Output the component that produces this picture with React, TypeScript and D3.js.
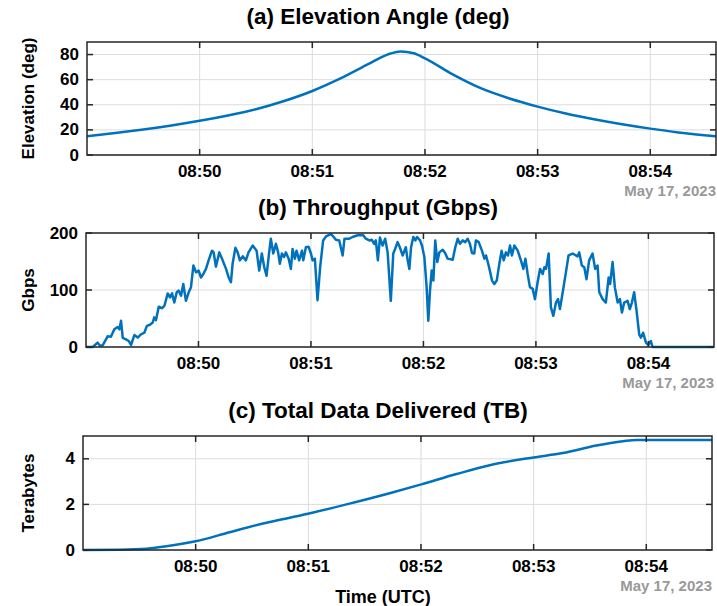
import { useEffect, useRef } from 'react'
import * as d3 from 'd3'

// seconds after 08:49:00 UTC, May 17 2023
const elevTime = [0, 15, 30, 45, 60, 75, 90, 105, 120, 135, 150, 160, 167, 174, 180, 195, 210, 225, 240, 255, 270, 285, 300, 315, 335]
const elevDeg = [15.0, 17.5, 20.3, 23.5, 27.2, 31.5, 36.5, 43.0, 51.0, 61.0, 72.5, 80.0, 82.5, 81.0, 77.0, 64.0, 53.0, 45.0, 38.5, 33.0, 28.5, 24.5, 21.0, 18.0, 15.0]

const tputTime = [
  0, 3.6, 6.2, 7.5, 8.9, 11.6, 13.3, 15.1, 16.9, 17.8, 18.7, 19.6, 21.3, 22.8, 24.0, 25.8, 27.6, 29.3, 31.1, 32.5,
  34.1, 35.6, 36.4, 37.3, 38.8, 40.5, 41.8, 43.6, 44.8, 45.9, 47.1, 48.4, 49.4, 50.7, 51.9, 53.3, 54.8, 56.0, 57.3, 58.7,
  60.1, 61.3, 62.6, 64.0, 65.4, 67.2, 68.1, 69.3, 71.1, 72.9, 74.7, 76.1, 77.3, 78.2, 79.7, 80.9, 82.1, 83.6, 85.3,
  86.7, 88.9, 91.0, 92.4, 93.8, 95.1, 96.3, 97.7, 98.6, 99.9, 101.3, 102.5, 103.4, 104.5, 105.7, 106.6, 108.1, 109.3,
  110.2, 111.4, 112.3, 113.7, 115.2, 115.9, 117.3, 118.7, 120.0, 120.9, 122.1, 123.5, 124.9, 126.5, 128.0, 130.6,
  131.9, 133.3, 135.1, 136.9, 137.9, 140.4, 142.2, 144.9, 147.9, 149.3, 151.1, 152.5, 153.7, 154.6, 155.7, 156.8,
  158.2, 159.6, 160.9, 162.6, 163.9, 164.9, 166.2, 167.4, 168.9, 170.6,
  171.6, 172.5, 173.4, 174.6, 175.7, 176.6, 178.2, 179.2, 180.5, 181.7, 182.6, 183.5, 184.4, 185.3, 186.3, 187.4,
  188.5, 190.3, 191.7, 192.9, 195.6, 197.0, 198.3, 199.5, 200.9, 202.3, 203.6, 204.8, 205.9, 207.1, 208.0, 209.5,
  211.2, 212.5, 213.4, 214.8, 216.6, 217.8, 219.1, 220.5, 221.7, 222.8, 224.0, 225.1, 226.2, 227.2, 228.5, 230.3,
  232.0, 233.3, 234.4, 235.6, 236.8, 238.3, 239.5, 240.9, 242.2, 243.6, 244.5, 245.4, 246.8, 248.0, 249.3, 250.7,
  251.8, 252.8, 254.3, 256.0,
  257.4, 259.6, 262.2, 263.1, 264.5, 265.8, 267.0, 268.4, 270.2, 271.6, 272.9, 273.8, 275.6, 277.3, 278.8, 279.6,
  280.9, 282.1, 283.6, 284.8, 285.9, 287.1, 288.9, 290.1, 291.2, 292.4, 293.7, 295.1, 296.0, 297.2, 298.7, 299.9,
  301.3, 302.2, 335
]
const tputGbps = [
  0, 0, 7.6, 2, 3, 19, 18, 31, 35, 31, 46, 16, 13.5, 10.6, 3.5, 21, 16.5, 22, 25, 37,
  39, 43, 52, 47, 70.6, 68, 72, 94, 87, 94, 78, 96, 99, 90, 110.6, 81, 96, 105, 143, 131,
  134, 122, 128, 137, 152, 169, 166, 141, 166, 152, 137, 122, 113.5, 146, 174, 166, 152, 159, 152,
  166, 178, 169, 134, 164, 140, 125, 166, 190, 164, 181, 166, 146, 164, 158, 166, 155, 137,
  172, 155, 169, 152, 169, 152, 175, 176, 164, 152, 155, 82, 140, 187, 194, 198,
  194, 188, 187, 160.6, 190, 190, 193, 196, 196, 190, 187, 188, 181, 187, 152, 192,
  178, 190, 166, 81, 164, 172, 184, 175, 160.6, 175,
  152, 137, 175, 193, 187, 193, 187, 178, 158, 105, 46, 99, 134, 116.5, 187, 149,
  166, 170.6, 164, 155, 153, 175, 190, 181, 187, 184, 190, 181, 165, 164, 187, 184,
  169, 155, 160.6, 143, 116.5, 110.6, 116.5, 146, 169, 152, 166, 160.6, 178, 160.6, 178, 169,
  152, 137, 155, 128, 105, 102, 84, 113.5, 137, 128, 140, 137, 164, 69.4, 54.7, 78,
  84, 66.5, 96, 131,
  160.6, 164, 159, 166, 143, 140, 119, 152, 164, 137, 143, 96, 84, 78, 122, 110.6,
  149, 105, 78, 84, 60.6, 78, 81, 66.5, 78, 96, 63.5, 22, 16.5, 25, 7.6, 3.5,
  10.6, 0, 0
]

const dataTime = [0, 19.5, 33.8, 44.4, 60, 78.1, 95.9, 119.8, 140.3, 163.3, 180.2, 198.9, 216.6, 240, 255.6, 273.4, 287.6, 294.7, 300, 335]
const dataTB = [0, 0.015, 0.06, 0.16, 0.38, 0.78, 1.16, 1.59, 2.0, 2.49, 2.88, 3.33, 3.72, 4.06, 4.25, 4.58, 4.77, 4.83, 4.83, 4.83]

const titles = ['(a) Elevation Angle (deg)', '(b) Throughput (Gbps)', '(c) Total Data Delivered (TB)']
const yLabels = ['Elevation (deg)', 'Gbps', 'Terabytes']
const yTicks = [[0, 20, 40, 60, 80], [0, 100, 200], [0, 2, 4]]
const yDomains: [number, number][] = [[0, 90], [0, 200], [0, 5]]
const timeTickLabels = ['08:50', '08:51', '08:52', '08:53', '08:54']
const dateLabel = 'May 17, 2023'
const xLabel = 'Time (UTC)'

const t0 = new Date(2023, 4, 17, 8, 49, 0)
const toDate = (s: number) => new Date(t0.getTime() + s * 1000)

const FONT = '"Liberation Sans", Arial, sans-serif'
const AXIS = '#262626'
const GRID = '#dcdcdc'
const BLUE = '#0072bd'

// panel boxes (left, right, top, bottom) in px
const boxes = [
  { l: 87, r: 716, t: 42, b: 155 },
  { l: 86, r: 714, t: 233, b: 347 },
  { l: 83, r: 712, t: 436, b: 550 },
]

export default function App() {
  const svgRef = useRef<SVGSVGElement>(null)

  useEffect(() => {
    if (!svgRef.current) return
    const svg = d3.select(svgRef.current)
    svg.selectAll('*').remove()

    const series = [
      elevTime.map((t, i) => ({ d: toDate(t), v: elevDeg[i] })),
      tputTime.map((t, i) => ({ d: toDate(t), v: tputGbps[i] })),
      dataTime.map((t, i) => ({ d: toDate(t), v: dataTB[i] })),
    ]
    const curves = [d3.curveMonotoneX, d3.curveLinear, d3.curveMonotoneX]
    const tickDates = timeTickLabels.map(s => {
      const [h, m] = s.split(':').map(Number)
      return new Date(2023, 4, 17, h, m, 0)
    })

    boxes.forEach((bx, i) => {
      const x = d3.scaleTime().domain([toDate(0), toDate(335)]).range([bx.l, bx.r])
      const y = d3.scaleLinear().domain(yDomains[i]).range([bx.b, bx.t])
      const g = svg.append('g')

      // grid
      tickDates.forEach(td => {
        g.append('line')
          .attr('x1', x(td)).attr('x2', x(td))
          .attr('y1', bx.t).attr('y2', bx.b)
          .attr('stroke', GRID).attr('stroke-width', 1)
      })
      yTicks[i].forEach(v => {
        g.append('line')
          .attr('x1', bx.l).attr('x2', bx.r)
          .attr('y1', y(v)).attr('y2', y(v))
          .attr('stroke', GRID).attr('stroke-width', 1)
      })

      // data line
      const line = d3.line<{ d: Date; v: number }>()
        .x(p => x(p.d))
        .y(p => y(p.v))
        .curve(curves[i])
      g.append('path')
        .datum(series[i])
        .attr('fill', 'none')
        .attr('stroke', BLUE)
        .attr('stroke-width', 2.5)
        .attr('stroke-linejoin', 'round')
        .attr('d', line)

      // ticks (inward, all four sides)
      const tl = 6
      tickDates.forEach(td => {
        g.append('line').attr('x1', x(td)).attr('x2', x(td)).attr('y1', bx.b).attr('y2', bx.b - tl)
          .attr('stroke', AXIS).attr('stroke-width', 1.5)
        g.append('line').attr('x1', x(td)).attr('x2', x(td)).attr('y1', bx.t).attr('y2', bx.t + tl)
          .attr('stroke', AXIS).attr('stroke-width', 1.5)
      })
      yTicks[i].forEach(v => {
        g.append('line').attr('x1', bx.l).attr('x2', bx.l + tl).attr('y1', y(v)).attr('y2', y(v))
          .attr('stroke', AXIS).attr('stroke-width', 1.5)
        g.append('line').attr('x1', bx.r).attr('x2', bx.r - tl).attr('y1', y(v)).attr('y2', y(v))
          .attr('stroke', AXIS).attr('stroke-width', 1.5)
      })

      // box
      g.append('rect')
        .attr('x', bx.l).attr('y', bx.t)
        .attr('width', bx.r - bx.l).attr('height', bx.b - bx.t)
        .attr('fill', 'none').attr('stroke', AXIS).attr('stroke-width', 1.5)

      // tick labels
      tickDates.forEach((td, k) => {
        g.append('text')
          .attr('x', x(td)).attr('y', bx.b + 22)
          .attr('text-anchor', 'middle')
          .attr('font-family', FONT).attr('font-weight', 'bold').attr('font-size', 17)
          .attr('fill', '#000')
          .text(timeTickLabels[k])
      })
      yTicks[i].forEach(v => {
        g.append('text')
          .attr('x', bx.l - 8).attr('y', y(v))
          .attr('text-anchor', 'end').attr('dominant-baseline', 'central')
          .attr('font-family', FONT).attr('font-weight', 'bold').attr('font-size', 17)
          .attr('fill', '#000')
          .text(String(v))
      })

      // date stamp
      g.append('text')
        .attr('x', bx.r).attr('y', bx.b + 41)
        .attr('text-anchor', 'end')
        .attr('font-family', FONT).attr('font-weight', 'bold').attr('font-size', 15)
        .attr('fill', '#999999')
        .text(dateLabel)

      // title
      g.append('text')
        .attr('x', 378).attr('y', bx.t - 18)
        .attr('text-anchor', 'middle')
        .attr('font-family', FONT).attr('font-weight', 'bold').attr('font-size', 22.5)
        .attr('fill', '#000')
        .text(titles[i])

      // y label
      g.append('text')
        .attr('transform', `translate(34,${(bx.t + bx.b) / 2}) rotate(-90)`)
        .attr('text-anchor', 'middle')
        .attr('font-family', FONT).attr('font-weight', 'bold').attr('font-size', 17)
        .attr('fill', '#000')
        .text(yLabels[i])
    })

    svg.append('text')
      .attr('x', 383).attr('y', 603)
      .attr('text-anchor', 'middle')
      .attr('font-family', FONT).attr('font-weight', 'bold').attr('font-size', 18)
      .attr('fill', '#000')
      .text(xLabel)
  }, [])

  return (
    <svg
      ref={svgRef}
      width={717}
      height={606}
      style={{ position: 'absolute', left: 0, top: 0, display: 'block', background: '#fff' }}
    />
  )
}
